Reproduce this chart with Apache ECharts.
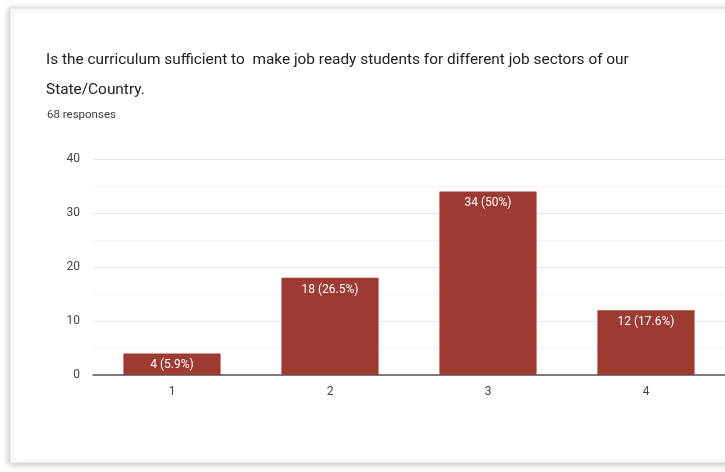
<!DOCTYPE html>
<html><head><meta charset="utf-8">
<script src="https://cdn.jsdelivr.net/npm/echarts@6/dist/echarts.min.js"></script>
<style>html,body{margin:0;padding:0;background:#fff}#c{width:725px;height:472px}</style>
</head><body><div id="c"></div>
<script>
const categories = ['1', '2', '3', '4'];
const counts = [4, 18, 34, 12];
const percents = ['5.9%', '26.5%', '50%', '17.6%'];
const yTicks = [0, 10, 20, 30, 40];
const titleText = 'Is the curriculum sufficient to  make job ready students for different job sectors of our\nState/Country.';
const subtitleText = '68 responses';

const chart = echarts.init(document.getElementById('c'));
chart.setOption({
  animation: false,
  backgroundColor: '#fff',
  graphic: [{
    type: 'rect', z: -10,
    shape: { x: 10, y: 8, width: 760, height: 455 },
    style: { fill: '#fff', stroke: '#e0e0e0', lineWidth: 1, shadowBlur: 6, shadowColor: 'rgba(0,0,0,0.25)', shadowOffsetX: -1, shadowOffsetY: 1 }
  }],
  title: [{
    text: titleText, left: 41, top: 40,
    textStyle: { fontFamily: 'Roboto', fontSize: 15.4, fontWeight: 'normal', color: '#202124', lineHeight: 30 }
  }, {
    text: subtitleText, left: 42, top: 104,
    textStyle: { fontFamily: 'Roboto', fontSize: 11.5, fontWeight: 'normal', color: '#3c4043' }
  }],
  grid: { left: 93, right: 0, top: 159, bottom: 97, containLabel: false },
  xAxis: {
    type: 'category', data: categories,
    axisLine: { lineStyle: { color: '#555', width: 1.5 } },
    axisTick: { show: false },
    axisLabel: { color: '#444', fontFamily: 'Roboto', fontSize: 12, margin: 11 }
  },
  yAxis: {
    type: 'value', min: yTicks[0], max: yTicks[yTicks.length - 1], interval: 10,
    axisLine: { show: false }, axisTick: { show: false },
    axisLabel: { color: '#444', fontFamily: 'Roboto', fontSize: 12, margin: 13 },
    splitLine: { lineStyle: { color: '#e8e8e8' } },
    minorTick: { show: false, splitNumber: 2 },
    minorSplitLine: { show: true, lineStyle: { color: '#f4f4f4' } }
  },
  series: [{
    type: 'bar', data: counts, barWidth: '61.5%',
    itemStyle: { color: '#9d3a32' },
    label: {
      show: true, position: 'insideTop', distance: 6,
      color: '#fff', fontFamily: 'Roboto', fontSize: 12,
      formatter: p => p.value + ' (' + percents[p.dataIndex] + ')'
    }
  }]
});
</script></body></html>
